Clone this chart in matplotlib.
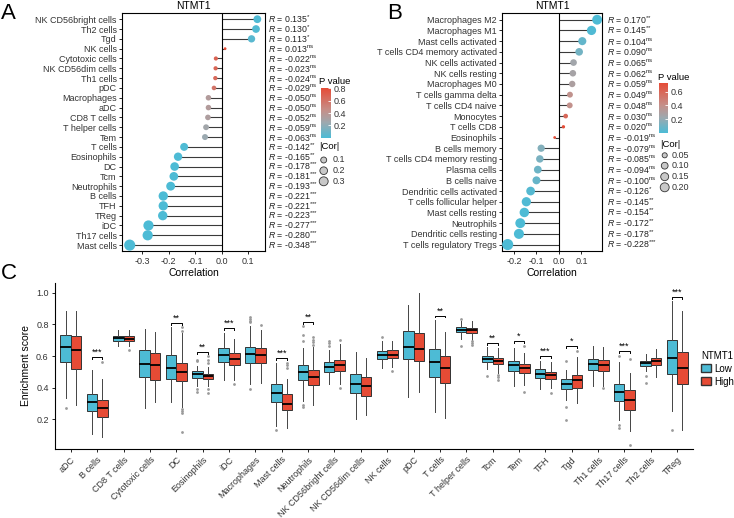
import numpy as np
import matplotlib
matplotlib.use('Agg')
import matplotlib.pyplot as plt
from matplotlib.colors import LinearSegmentedColormap, Normalize
from matplotlib.cm import ScalarMappable
from matplotlib.patches import Patch
from matplotlib.transforms import blended_transform_factory

plt.rcParams['font.family'] = ['Liberation Sans', 'DejaVu Sans']
plt.rcParams['mathtext.fontset'] = 'custom'
plt.rcParams['mathtext.rm'] = 'Liberation Sans'
plt.rcParams['mathtext.it'] = 'Liberation Sans:italic'
plt.rcParams['axes.unicode_minus'] = False

# ---- panel A (ssGSEA) ----
cells_a = ['NK CD56bright cells', 'Th2 cells', 'Tgd', 'NK cells', 'Cytotoxic cells',
           'NK CD56dim cells', 'Th1 cells', 'pDC', 'Macrophages', 'aDC', 'CD8 T cells',
           'T helper cells', 'Tem', 'T cells', 'Eosinophils', 'DC', 'Tcm', 'Neutrophils',
           'B cells', 'TFH', 'TReg', 'iDC', 'Th17 cells', 'Mast cells']
r_a = [0.135, 0.130, 0.113, 0.013, -0.022, -0.023, -0.024, -0.029, -0.050, -0.050, -0.052,
       -0.059, -0.063, -0.142, -0.165, -0.178, -0.181, -0.193, -0.221, -0.221, -0.223,
       -0.277, -0.280, -0.348]
p_a = [0.011, 0.015, 0.035, 0.81, 0.68, 0.67, 0.65, 0.59, 0.35, 0.35, 0.33, 0.27, 0.24,
       0.008, 0.002, 0.0008, 0.0007, 0.0003, 3e-5, 3e-5, 3e-5, 1e-7, 1e-7, 1e-10]
sig_a = ['*', '*', '*', 'ns', 'ns', 'ns', 'ns', 'ns', 'ns', 'ns', 'ns', 'ns', 'ns',
         '**', '**', '***', '***', '***', '***', '***', '***', '***', '***', '***']

# ---- panel B (CIBERSORT) ----
cells_b = ['Macrophages M2', 'Macrophages M1', 'Mast cells activated',
           'T cells CD4 memory activated', 'NK cells activated', 'NK cells resting',
           'Macrophages M0', 'T cells gamma delta', 'T cells CD4 naive', 'Monocytes',
           'T cells CD8', 'Eosinophils', 'B cells memory', 'T cells CD4 memory resting',
           'Plasma cells', 'B cells naive', 'Dendritic cells activated',
           'T cells follicular helper', 'Mast cells resting', 'Neutrophils',
           'Dendritic cells resting', 'T cells regulatory Tregs']
r_b = [0.170, 0.145, 0.104, 0.090, 0.065, 0.062, 0.059, 0.049, 0.048, 0.030, 0.020,
       -0.019, -0.079, -0.085, -0.094, -0.100, -0.126, -0.145, -0.154, -0.172, -0.178, -0.228]
p_b = [0.002, 0.009, 0.061, 0.105, 0.24, 0.26, 0.29, 0.38, 0.39, 0.59, 0.72, 0.73,
       0.15, 0.125, 0.09, 0.071, 0.023, 0.009, 0.005, 0.002, 0.0013, 3e-5]
sig_b = ['**', '**', 'ns', 'ns', 'ns', 'ns', 'ns', 'ns', 'ns', 'ns', 'ns', 'ns',
         'ns', 'ns', 'ns', 'ns', '*', '**', '**', '**', '**', '***']

# ---- panel C (boxplots, Low vs High) ----
cells_c = ['aDC', 'B cells', 'CD8 T cells', 'Cytotoxic cells', 'DC', 'Eosinophils', 'iDC',
           'Macrophages', 'Mast cells', 'Neutrophils', 'NK CD56bright cells',
           'NK CD56dim cells', 'NK cells', 'pDC', 'T cells', 'T helper cells', 'Tcm', 'Tem',
           'TFH', 'Tgd', 'Th1 cells', 'Th17 cells', 'Th2 cells', 'TReg']
# (whislo, q1, median, q3, whishi)
low_stats = [
    (0.334, 0.564, 0.655, 0.735, 0.887), (0.106, 0.250, 0.313, 0.361, 0.513),
    (0.661, 0.695, 0.712, 0.729, 0.762), (0.271, 0.471, 0.549, 0.638, 0.773),
    (0.313, 0.456, 0.528, 0.606, 0.781), (0.412, 0.461, 0.484, 0.507, 0.535),
    (0.448, 0.564, 0.606, 0.650, 0.745), (0.425, 0.558, 0.615, 0.659, 0.792),
    (0.161, 0.309, 0.364, 0.421, 0.556), (0.319, 0.450, 0.501, 0.541, 0.650),
    (0.423, 0.499, 0.530, 0.560, 0.640), (0.201, 0.364, 0.425, 0.486, 0.625),
    (0.522, 0.583, 0.610, 0.634, 0.693), (0.340, 0.581, 0.657, 0.756, 0.925),
    (0.245, 0.471, 0.560, 0.648, 0.826), (0.708, 0.750, 0.767, 0.781, 0.819),
    (0.518, 0.564, 0.583, 0.598, 0.655), (0.414, 0.507, 0.541, 0.568, 0.650),
    (0.395, 0.463, 0.488, 0.518, 0.568), (0.323, 0.395, 0.425, 0.456, 0.513),
    (0.408, 0.513, 0.549, 0.581, 0.661), (0.197, 0.319, 0.372, 0.423, 0.560),
    (0.503, 0.539, 0.556, 0.572, 0.615), (0.250, 0.486, 0.587, 0.703, 0.946)]
low_fliers = [[0.275], [], [], [], [], [0.577, 0.566, 0.393, 0.376], [],
              [0.845, 0.834, 0.824, 0.813, 0.393], [0.134], [0.788, 0.731, 0.693, 0.292, 0.281],
              [0.697, 0.682, 0.661], [], [0.718], [], [], [0.836, 0.663], [0.473], [], [],
              [0.566, 0.281, 0.197], [], [0.602, 0.165, 0.144], [0.475, 0.429], [0.134]]
high_stats = [
    (0.292, 0.518, 0.640, 0.724, 0.887), (0.089, 0.218, 0.275, 0.323, 0.456),
    (0.661, 0.693, 0.710, 0.724, 0.762), (0.309, 0.450, 0.543, 0.619, 0.752),
    (0.281, 0.442, 0.499, 0.556, 0.745), (0.408, 0.456, 0.473, 0.490, 0.530),
    (0.450, 0.545, 0.583, 0.619, 0.710), (0.429, 0.556, 0.606, 0.650, 0.767),
    (0.148, 0.258, 0.300, 0.359, 0.456), (0.292, 0.419, 0.469, 0.513, 0.655),
    (0.423, 0.503, 0.541, 0.577, 0.676), (0.226, 0.347, 0.414, 0.471, 0.591),
    (0.530, 0.585, 0.608, 0.636, 0.697), (0.376, 0.570, 0.648, 0.745, 0.997),
    (0.207, 0.429, 0.524, 0.598, 0.752), (0.703, 0.745, 0.762, 0.777, 0.819),
    (0.492, 0.549, 0.572, 0.591, 0.650), (0.419, 0.492, 0.524, 0.549, 0.619),
    (0.399, 0.454, 0.482, 0.501, 0.560), (0.302, 0.397, 0.448, 0.478, 0.594),
    (0.412, 0.507, 0.543, 0.575, 0.655), (0.127, 0.260, 0.323, 0.387, 0.492),
    (0.465, 0.541, 0.570, 0.591, 0.646), (0.134, 0.425, 0.522, 0.629, 0.887)]
high_fliers = [[], [0.562], [0.640], [], [0.781, 0.756, 0.267, 0.254, 0.243, 0.119],
               [0.598, 0.577, 0.556, 0.391, 0.370], [0.423], [0.798], [0.556, 0.541, 0.528],
               [0.718, 0.703, 0.689, 0.672], [0.703, 0.397], [], [0.509], [], [],
               [0.693, 0.682, 0.672], [0.482, 0.465, 0.450], [0.667, 0.376], [0.366],
               [0.635], [0.397], [0.581, 0.039], [], []]
sig_c = ['', '***', '', '', '**', '**', '***', '', '***', '**', '', '', '', '', '**', '',
         '**', '*', '***', '*', '', '***', '', '***']

BLUE = '#4DBBD5'
RED = '#E64B35'
W, H = 734, 518
pcmap = LinearSegmentedColormap.from_list(
    'pv', [(0, BLUE), (0.3, '#9DA9AF'), (0.55, '#C58F89'), (1, RED)])

fig = plt.figure(figsize=(W / 100, H / 100), dpi=100)


def fx(px):
    return px / W


def fy(py):
    return 1 - py / H


def sup(s):
    # each star in its own group so mathtext does not space them as operators
    if s == 'ns':
        return r'$^{\mathrm{ns}}$'
    return '$^{' + '{*}' * len(s) + '}$'


def lollipop(ax, cells, r, p, sig, lab_x, xlim, xticks):
    r = np.array(r)
    n = len(cells)
    y = np.arange(n)[::-1]
    norm = Normalize(min(p), max(p))
    absr = np.abs(r)
    lo, hi = absr.min(), absr.max()
    d = 2 + 6 * np.sqrt((absr - lo) / (hi - lo))
    ax.hlines(y, 0, r, color='#3a3a3a', lw=0.8, zorder=1)
    ax.axvline(0, color='black', lw=0.8, zorder=1)
    ax.scatter(r, y, s=d ** 2, c=pcmap(norm(p)), linewidths=0, zorder=3)
    ax.set_xlim(*xlim)
    ax.set_ylim(-0.6, n - 0.4)
    ax.set_yticks(y)
    ax.set_yticklabels(cells)
    ax.set_xticks(xticks)
    ax.set_xticklabels([f'{t:.1f}' for t in xticks])
    ax.tick_params(labelsize=6.5, labelcolor='#333333', length=2.5, width=0.6, pad=1.5)
    for s in ax.spines.values():
        s.set_linewidth(0.8)
    ax.set_xlabel('Correlation', fontsize=7.5, labelpad=2)
    ax.set_title('NTMT1', fontsize=7.5, pad=3)
    tr = blended_transform_factory(fig.transFigure, ax.transData)
    for yi, ri, si in zip(y, r, sig):
        ax.text(fx(lab_x), yi, f'$R$ = {ri:.3f}' + sup(si),
                transform=tr, fontsize=6.3, va='center', ha='left', color='#222222')
    return norm, lo, hi


def color_legend(norm, title_xy, rect, ticks):
    fig.text(fx(title_xy[0]), fy(title_xy[1]), 'P value', fontsize=6.8, va='center')
    cax = fig.add_axes(rect)
    cb = fig.colorbar(ScalarMappable(norm=norm, cmap=pcmap), cax=cax, ticks=ticks)
    cb.outline.set_visible(False)
    cax.tick_params(length=2, width=0.6, colors='white', direction='in', pad=2)
    cax.tick_params(labelsize=6.5, labelcolor='#333333')
    cax.set_yticklabels([f'{t:.1f}' for t in ticks])


def size_legend(ax, vals, labels, lo, hi, title_xy, cx, ys, lab_x):
    fig.text(fx(title_xy[0]), fy(title_xy[1]), '|Cor|', fontsize=6.8, va='center')
    d = 2 + 6 * np.sqrt((np.array(vals) - lo) / (hi - lo))
    ax.scatter([fx(cx)] * len(vals), [fy(v) for v in ys], s=(0.85 * d) ** 2,
               transform=fig.transFigure, clip_on=False, fc='#c8c8c8', ec='#333333', lw=0.6)
    for lab, yy in zip(labels, ys):
        fig.text(fx(lab_x), fy(yy), lab, fontsize=6.5, va='center', color='#333333')


# panel A
ax_a = fig.add_axes([fx(122.3), fy(251), fx(265) - fx(122.3), fy(13.3) - fy(251)])
norm_a, lo_a, hi_a = lollipop(ax_a, cells_a, r_a, p_a, sig_a, 268,
                              (-0.376, 0.164), [-0.3, -0.2, -0.1, 0.0, 0.1])
color_legend(norm_a, (319, 81.5), [fx(320.7), fy(137.7), fx(10), 50 / H], [0.2, 0.4, 0.6, 0.8])
size_legend(ax_a, [0.1, 0.2, 0.3], ['0.1', '0.2', '0.3'], lo_a, hi_a,
            (319, 146.7), 323.7, [160, 170.7, 181.3], 333)

# panel B
ax_b = fig.add_axes([fx(502.3), fy(251), fx(602.3) - fx(502.3), fy(13.3) - fy(251)])
norm_b, lo_b, hi_b = lollipop(ax_b, cells_b, r_b, p_b, sig_b, 607.3,
                              (-0.252, 0.193), [-0.2, -0.1, 0.0, 0.1])
color_legend(norm_b, (658, 77), [fx(659), fy(132.7), fx(9), 50 / H], [0.2, 0.4, 0.6])
size_legend(ax_b, [0.05, 0.10, 0.15, 0.20], ['0.05', '0.10', '0.15', '0.20'], lo_b, hi_b,
            (660, 144.3), 664.7, [155.3, 165.7, 176.7, 187.3], 671.5)

# panel C
ax_c = fig.add_axes([fx(55), fy(449), fx(693) - fx(55), fy(283) - fy(449)])
xc = np.arange(len(cells_c))


def make_stats(stats, fliers):
    return [dict(whislo=s[0], q1=s[1], med=s[2], q3=s[3], whishi=s[4], fliers=f)
            for s, f in zip(stats, fliers)]


for st, fl, off, col in [(low_stats, low_fliers, -0.2, BLUE), (high_stats, high_fliers, 0.2, RED)]:
    ax_c.bxp(make_stats(st, fl), positions=xc + off, widths=0.4, patch_artist=True,
             showcaps=False, manage_ticks=False,
             boxprops=dict(facecolor=col, edgecolor='#333333', lw=0.7),
             medianprops=dict(color='black', lw=1.3),
             whiskerprops=dict(color='#444444', lw=0.7),
             flierprops=dict(marker='o', markersize=2, markerfacecolor='#9a9a9a',
                             markeredgecolor='none'))

for i, s in enumerate(sig_c):
    if not s:
        continue
    top = max([low_stats[i][4], high_stats[i][4]] + low_fliers[i] + high_fliers[i]) + 0.03
    ax_c.plot([i - 0.2, i - 0.2, i + 0.2, i + 0.2], [top - 0.012, top, top, top - 0.012],
              color='black', lw=0.7)
    ax_c.text(i, top + 0.002, s, ha='center', va='bottom', fontsize=6.5)

ax_c.set_xlim(-0.6, len(cells_c) - 0.4)
ax_c.set_ylim(0.013, 1.062)
ax_c.set_xticks(xc)
ax_c.set_xticklabels(cells_c, rotation=45, ha='right', rotation_mode='anchor')
ax_c.set_yticks([0.2, 0.4, 0.6, 0.8, 1.0])
ax_c.set_yticklabels(['0.2', '0.4', '0.6', '0.8', '1.0'])
ax_c.tick_params(labelsize=6.5, labelcolor='#333333', length=2.5, width=0.6, pad=2)
ax_c.spines['top'].set_visible(False)
ax_c.spines['right'].set_visible(False)
for s in ['left', 'bottom']:
    ax_c.spines[s].set_linewidth(0.8)
ax_c.set_ylabel('Enrichment score', fontsize=7.5, labelpad=4)

fig.legend(handles=[Patch(facecolor=BLUE, edgecolor='#333333', label='Low'),
                    Patch(facecolor=RED, edgecolor='#333333', label='High')],
           title='NTMT1', loc='upper left', bbox_to_anchor=(fx(694), fy(344)),
           frameon=False, fontsize=7, title_fontsize=7, handlelength=1.0,
           handleheight=0.9, handletextpad=0.4, labelspacing=0.3, alignment='left',
           borderpad=0.2)

# panel letters
fig.text(fx(1), fy(3), 'A', fontsize=16, va='top', ha='left')
fig.text(fx(387), fy(3), 'B', fontsize=16, va='top', ha='left')
fig.text(fx(1), fy(263), 'C', fontsize=16, va='top', ha='left')

fig.savefig('out.png', dpi=100)
